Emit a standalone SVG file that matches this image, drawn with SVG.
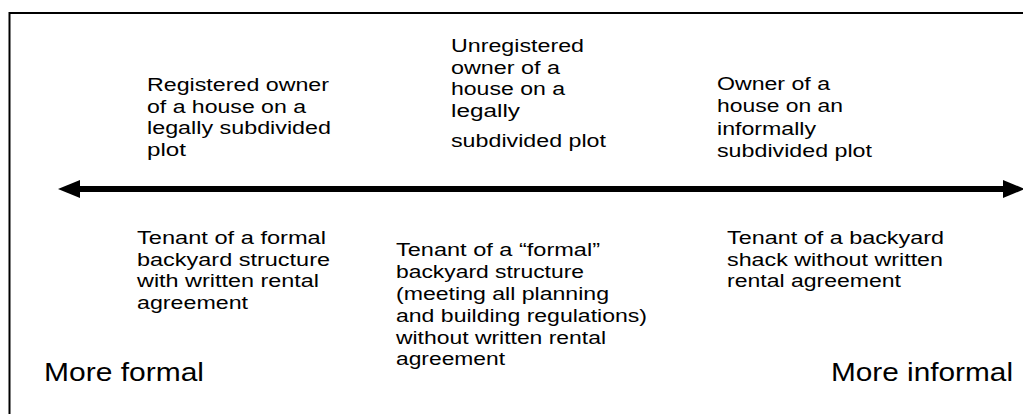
<svg xmlns="http://www.w3.org/2000/svg" width="1023" height="414" viewBox="0 0 1023 414">
<style>
  text { font-family: "Liberation Sans", Arial, sans-serif; font-size: 17.5px; fill: #000; }
  .big { font-size: 26px; }
  .frame { fill: none; stroke: #000; stroke-width: 2; }
  .axis { stroke: #000; stroke-width: 6; fill: none; }
</style>
<defs>
  <marker id="head" viewBox="0 0 22 18" refX="0" refY="9" markerWidth="22" markerHeight="18" markerUnits="userSpaceOnUse" orient="auto-start-reverse">
    <path d="M0,0 L22,9 L0,18 Z" fill="#000"/>
  </marker>
</defs>
<rect class="frame" x="9.5" y="13" width="1100" height="500"/>
<g id="connectors">
  <line class="axis" x1="80" y1="189" x2="1003" y2="189" marker-start="url(#head)" marker-end="url(#head)"/>
</g>
<g id="registered-owner">
  <text x="147" y="91" textLength="182" lengthAdjust="spacingAndGlyphs">Registered owner</text>
  <text x="147" y="112.5" textLength="159" lengthAdjust="spacingAndGlyphs">of a house on a</text>
  <text x="147" y="134" textLength="184" lengthAdjust="spacingAndGlyphs">legally subdivided</text>
  <text x="147" y="155.5" textLength="39" lengthAdjust="spacingAndGlyphs">plot</text>
</g>
<g id="unregistered-owner">
  <text x="451" y="52" textLength="133" lengthAdjust="spacingAndGlyphs">Unregistered</text>
  <text x="451" y="73.5" textLength="109" lengthAdjust="spacingAndGlyphs">owner of a</text>
  <text x="451" y="95" textLength="114" lengthAdjust="spacingAndGlyphs">house on a</text>
  <text x="451" y="116.5" textLength="69" lengthAdjust="spacingAndGlyphs">legally</text>
  <text x="451" y="147" textLength="155" lengthAdjust="spacingAndGlyphs">subdivided plot</text>
</g>
<g id="informal-owner">
  <text x="717" y="90" textLength="113" lengthAdjust="spacingAndGlyphs">Owner of a</text>
  <text x="717" y="112" textLength="126" lengthAdjust="spacingAndGlyphs">house on an</text>
  <text x="717" y="134.5" textLength="99" lengthAdjust="spacingAndGlyphs">informally</text>
  <text x="717" y="157" textLength="155" lengthAdjust="spacingAndGlyphs">subdivided plot</text>
</g>
<g id="formal-tenant">
  <text x="137" y="244" textLength="189" lengthAdjust="spacingAndGlyphs">Tenant of a formal</text>
  <text x="137" y="265.5" textLength="193" lengthAdjust="spacingAndGlyphs">backyard structure</text>
  <text x="137" y="287" textLength="182" lengthAdjust="spacingAndGlyphs">with written rental</text>
  <text x="137" y="308.5" textLength="111" lengthAdjust="spacingAndGlyphs">agreement</text>
</g>
<g id="quasi-formal-tenant">
  <text x="396" y="256" textLength="204" lengthAdjust="spacingAndGlyphs">Tenant of a “formal”</text>
  <text x="396" y="278" textLength="188" lengthAdjust="spacingAndGlyphs">backyard structure</text>
  <text x="396" y="300" textLength="213" lengthAdjust="spacingAndGlyphs">(meeting all planning</text>
  <text x="396" y="322" textLength="251" lengthAdjust="spacingAndGlyphs">and building regulations)</text>
  <text x="396" y="343.5" textLength="210" lengthAdjust="spacingAndGlyphs">without written rental</text>
  <text x="396" y="365" textLength="109" lengthAdjust="spacingAndGlyphs">agreement</text>
</g>
<g id="shack-tenant">
  <text x="727" y="243.5" textLength="217" lengthAdjust="spacingAndGlyphs">Tenant of a backyard</text>
  <text x="727" y="265.5" textLength="216" lengthAdjust="spacingAndGlyphs">shack without written</text>
  <text x="727" y="287" textLength="174" lengthAdjust="spacingAndGlyphs">rental agreement</text>
</g>
<g id="more-formal">
  <text class="big" x="44" y="381" textLength="160" lengthAdjust="spacingAndGlyphs">More formal</text>
</g>
<g id="more-informal">
  <text class="big" x="831" y="381" textLength="182" lengthAdjust="spacingAndGlyphs">More informal</text>
</g>
</svg>
